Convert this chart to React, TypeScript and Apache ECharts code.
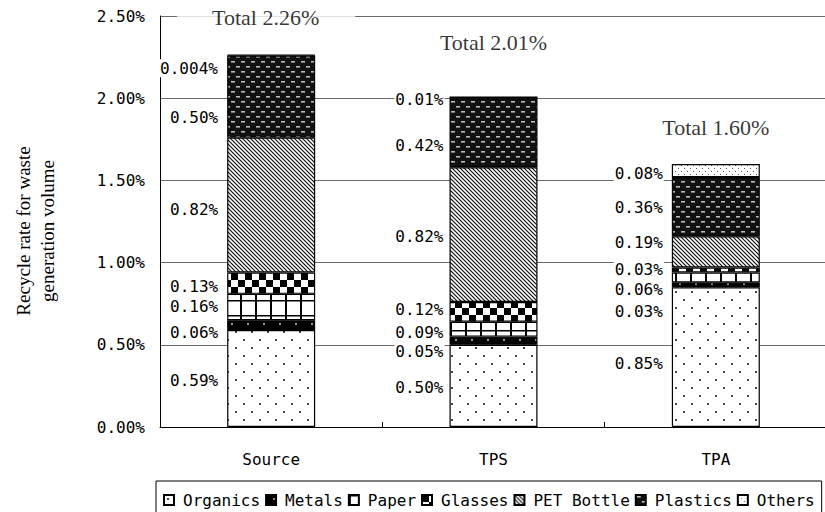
import React, { useEffect, useRef } from 'react';
import * as echarts from 'echarts';

// ---- data ----
const categories = ['Source', 'TPS', 'TPA'];
const seriesNames = ['Organics', 'Metals', 'Paper', 'Glasses', 'PET Bottle', 'Plastics', 'Others'];
const organics = [0.59, 0.5, 0.85];
const metals = [0.06, 0.05, 0.03];
const paper = [0.16, 0.09, 0.06];
const glasses = [0.13, 0.12, 0.03];
const petBottle = [0.82, 0.82, 0.19];
const plastics = [0.5, 0.42, 0.36];
const others = [0.004, 0.01, 0.08];
const yMin = 0;
const yMax = 2.5;
const yStep = 0.5;
const axisTitle = ['Recycle rate for waste', 'generation volume'];

// ---- layout tweaks (label nudges, pixels) ----
const labelNudgeY: Record<string, number[]> = {
  Organics: [1.5, 2, 6],
  Metals: [7, 11, 27],
  Paper: [0, 3, 12],
  Glasses: [3.5, -2, 0],
  'PET Bottle': [4, 2, -9],
  Plastics: [21, 13, 1],
  Others: [13, 2, 3],
};
const labelNudgeX = [0, 3, 0];
const totalOffsets = [[-5, -23], [0, -43], [0, -25]];

const MONO = 'DejaVu Sans Mono';
const SERIF = 'Liberation Serif';

function makePattern(w: number, h: number, draw: (c: CanvasRenderingContext2D) => void) {
  const cv = document.createElement('canvas');
  cv.width = w;
  cv.height = h;
  const ctx = cv.getContext('2d') as CanvasRenderingContext2D;
  draw(ctx);
  return { image: cv, repeat: 'repeat', imageWidth: w, imageHeight: h } as any;
}

function buildPatterns() {
  const organicsP = makePattern(16, 16, (c) => {
    c.fillStyle = '#fff'; c.fillRect(0, 0, 16, 16);
    c.fillStyle = '#444'; c.fillRect(3, 3, 2, 2); c.fillRect(11, 11, 2, 2);
  });
  const metalsP = makePattern(16, 8, (c) => {
    c.fillStyle = '#000'; c.fillRect(0, 0, 16, 8);
    c.fillStyle = '#999'; c.fillRect(7, 3, 2, 2);
  });
  const paperP = makePattern(15, 15, (c) => {
    c.fillStyle = '#fff'; c.fillRect(0, 0, 15, 15);
    c.fillStyle = '#000'; c.fillRect(0, 0, 2, 15); c.fillRect(0, 0, 15, 1.5);
  });
  const glassesP = makePattern(14, 14, (c) => {
    c.fillStyle = '#fff'; c.fillRect(0, 0, 14, 14);
    c.fillStyle = '#000'; c.fillRect(0, 0, 7, 7); c.fillRect(7, 7, 7, 7);
  });
  const petP = makePattern(4, 4, (c) => {
    c.fillStyle = '#fff'; c.fillRect(0, 0, 4, 4);
    c.strokeStyle = '#111'; c.lineWidth = 1.2;
    for (let k = -1; k <= 1; k++) {
      c.beginPath(); c.moveTo(k * 4 - 1, -1); c.lineTo(k * 4 + 5, 5); c.stroke();
    }
  });
  const plasticsP = makePattern(10, 10, (c) => {
    c.fillStyle = '#111'; c.fillRect(0, 0, 10, 10);
    c.fillStyle = '#bbb'; c.fillRect(1, 1, 4, 1.6); c.fillRect(6, 6, 4, 1.6);
  });
  const othersP = makePattern(6, 6, (c) => {
    c.fillStyle = '#fff'; c.fillRect(0, 0, 6, 6);
    c.fillStyle = '#555'; c.fillRect(0, 0, 1, 1); c.fillRect(3, 3, 1, 1);
  });
  return [organicsP, metalsP, paperP, glassesP, petP, plasticsP, othersP];
}

function fmt(v: number) {
  return (v < 0.01 ? v.toFixed(3) : v.toFixed(2)) + '%';
}

export default function App() {
  const ref = useRef<HTMLDivElement>(null);
  useEffect(() => {
    if (!ref.current) return;
    const chart = echarts.init(ref.current, undefined, { renderer: 'svg' });
    const patterns = buildPatterns();
    const values = [organics, metals, paper, glasses, petBottle, plastics, others];
    const totals = categories.map((_, i) => values.reduce((s, arr) => s + arr[i], 0));

    const barSeries = seriesNames.map((name, si) => ({
      name,
      type: 'bar',
      stack: 'total',
      barWidth: 88,
      data: values[si].map((v, i) => ({
        value: v,
        label: { offset: [labelNudgeX[i], labelNudgeY[name][i]] },
      })),
      itemStyle: { color: patterns[si], borderColor: '#000', borderWidth: 1.2 },
      label: {
        show: true,
        position: 'left',
        distance: 8,
        formatter: (p: any) => fmt(p.value),
        fontFamily: MONO,
        fontSize: 16,
        color: '#000',
        backgroundColor: '#fff',
        padding: [1, 1],
      },
      emphasis: { disabled: true },
    }));

    const totalSeries = {
      type: 'scatter',
      symbolSize: 0,
      silent: true,
      z: 10,
      data: totals.map((t, i) => ({
        value: t,
        label: i === 0
          ? { offset: totalOffsets[i], backgroundColor: '#fff', padding: [3, 36, 3, 35] }
          : { offset: totalOffsets[i] },
      })),
      label: {
        show: true,
        position: 'top',
        distance: 0,
        formatter: (p: any) => 'Total ' + Number(p.value).toFixed(2) + '%',
        fontFamily: SERIF,
        fontSize: 22,
        color: '#000',
      },
    };

    chart.setOption({
      animation: false,
      backgroundColor: '#fff',
      grid: { left: 160, right: 33, top: 16, bottom: 113 },
      xAxis: {
        type: 'category',
        data: categories,
        axisLine: { lineStyle: { color: '#000', width: 1 } },
        axisTick: { show: true, inside: true, length: 5, lineStyle: { color: '#000' } },
        axisLabel: { margin: 24, fontFamily: MONO, fontSize: 16, color: '#000' },
        splitLine: { show: false },
      },
      yAxis: {
        type: 'value',
        min: yMin,
        max: yMax,
        interval: yStep,
        axisLine: { show: true, lineStyle: { color: '#000', width: 1 } },
        axisTick: { show: false },
        axisLabel: {
          formatter: (v: number) => v.toFixed(2) + '%',
          margin: 15,
          fontFamily: MONO,
          fontSize: 16,
          color: '#000',
        },
        splitLine: { lineStyle: { color: '#6a6a6a', width: 1 } },
      },
      legend: {
        data: seriesNames,
        left: 156,
        top: 481,
        orient: 'horizontal',
        padding: [11, 7, 14, 7],
        itemGap: 5,
        itemWidth: 10,
        itemHeight: 10,
        icon: 'rect',
        borderColor: '#000',
        borderWidth: 1,
        selectedMode: false,
        textStyle: { fontFamily: MONO, fontSize: 16, color: '#000', padding: [0, 0, 0, 4] },
      },
      graphic: [
        {
          type: 'text',
          x: 35,
          y: 231,
          rotation: Math.PI / 2,
          style: {
            text: axisTitle.join('\n'),
            font: '19px "Liberation Serif"',
            fill: '#000',
            textAlign: 'center',
            textVerticalAlign: 'middle',
            lineHeight: 24,
          },
        },
      ],
      series: [...barSeries, totalSeries],
    } as any);
    return () => chart.dispose();
  }, []);

  return (
    <div style={{ position: 'fixed', left: 0, top: 0, width: 825, height: 512, overflow: 'hidden', background: '#fff' }}>
      <div ref={ref} style={{ width: 860, height: 540 }} />
    </div>
  );
}
